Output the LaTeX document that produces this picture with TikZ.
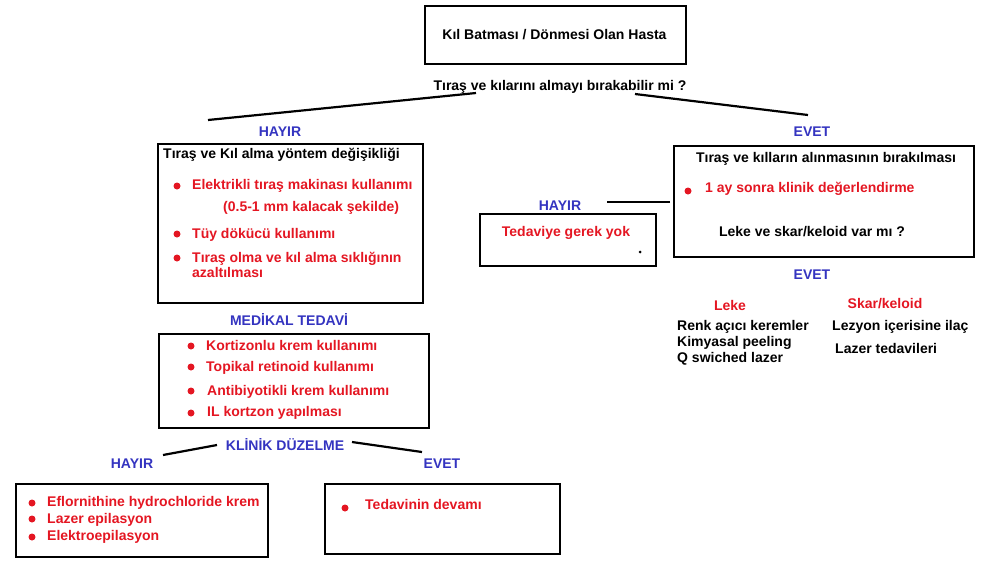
\documentclass[tikz,border=0pt]{standalone}
\usepackage{fontspec}
\setmainfont{Liberation Sans}
\definecolor{tred}{RGB}{228,22,34}
\definecolor{tblue}{RGB}{52,52,192}
\begin{document}
\begin{tikzpicture}[x=1pt,y=-1pt,
  font=\fontsize{14}{16}\selectfont\bfseries,
  box/.style={draw, line width=2.2pt, inner sep=0pt, anchor=north west},
  ct/.style={inner sep=0pt, yshift=-2pt},
  txt/.style={ct, anchor=mid west},
  rtxt/.style={txt, text=tred},
  lbl/.style={ct, text=tblue},
  dot/.style={circle, fill=tred, inner sep=0pt, minimum size=7pt},
  conn/.style={line width=2.2pt}]
\useasboundingbox (0,0) rectangle (1000,574);
% boxes
\node[box, minimum width=261pt, minimum height=58pt] (top) at (424,5) {};
\node[ct] (toptxt) at (554.5,33) {Kıl Batması / Dönmesi Olan Hasta};
\node[box, minimum width=265pt, minimum height=159pt] (b1) at (157,143) {};
\node[box, minimum width=270pt, minimum height=94pt] (b2) at (158,333) {};
\node[box, minimum width=252pt, minimum height=73pt] (b3) at (15,483) {};
\node[box, minimum width=235pt, minimum height=70pt] (b4) at (324,483) {};
\node[box, minimum width=300pt, minimum height=111pt] (rb) at (673,145) {};
\node[box, minimum width=176pt, minimum height=52pt] (sb) at (479,213) {};
% question and branches
\node[ct] (q) at (560,85) {Tıraş ve kılarını almayı bırakabilir mi ?};
\coordinate (qL) at (476,93);
\coordinate (qLe) at (208,120);
\coordinate (qR) at (635,94);
\coordinate (qRe) at (808,115);
\draw[conn] (qL) -- (qLe);
\draw[conn] (qR) -- (qRe);
\node[lbl] (hayir1) at (280,130) {HAYIR};
\node[lbl] (evet1) at (812,130) {EVET};
% left box 1
\node[txt] (b1t) at (163,154) {Tıraş ve Kıl alma yöntem değişikliği};
\node[dot] (d11) at (177,186) {};
\node[rtxt] (b1a) at (192,185) {Elektrikli tıraş makinası kullanımı};
\node[rtxt] (b1b) at (223,207) {(0.5-1 mm kalacak şekilde)};
\node[dot] (d12) at (177,234) {};
\node[rtxt] (b1c) at (192,234) {Tüy dökücü kullanımı};
\node[dot] (d13) at (177,258) {};
\node[rtxt] (b1d) at (192,258) {Tıraş olma ve kıl alma sıklığının};
\node[rtxt] (b1e) at (192,273) {azaltılması};
% medical
\node[lbl] (med) at (289,317) {MEDİKAL TEDAVİ};
\node[dot] (d21) at (191,346) {};
\node[rtxt] (b2a) at (206,346) {Kortizonlu krem kullanımı};
\node[dot] (d22) at (191,367) {};
\node[rtxt] (b2b) at (206,367) {Topikal retinoid kullanımı};
\node[dot] (d23) at (191,391) {};
\node[rtxt] (b2c) at (207,391) {Antibiyotikli krem kullanımı};
\node[dot] (d24) at (191,413) {};
\node[rtxt] (b2d) at (207,412) {IL kortzon yapılması};
% clinical improvement
\node[lbl] (kd) at (285,443) {KLİNİK DÜZELME};
\coordinate (kdL) at (217,445);
\coordinate (kdLe) at (163,455);
\coordinate (kdR) at (352,442);
\coordinate (kdRe) at (422,452);
\draw[conn] (kdL) -- (kdLe);
\draw[conn] (kdR) -- (kdRe);
\node[lbl] (hayir2) at (132,462) {HAYIR};
\node[lbl] (evet2) at (442,462) {EVET};
% box 3
\node[dot] (d31) at (32,503) {};
\node[rtxt] (b3a) at (47,502) {Eflornithine hydrochloride krem};
\node[dot] (d32) at (32,519) {};
\node[rtxt] (b3b) at (47,519) {Lazer epilasyon};
\node[dot] (d33) at (32,537) {};
\node[rtxt] (b3c) at (47,536) {Elektroepilasyon};
% box 4
\node[dot] (d41) at (345,508) {};
\node[rtxt] (b4a) at (365,505) {Tedavinin devamı};
% right box
\node[ct] (rbt) at (826,157) {Tıraş ve kılların alınmasının bırakılması};
\node[dot] (d51) at (688,191) {};
\node[rtxt] (rba) at (705,188) {1 ay sonra klinik değerlendirme};
\node[ct] (rbq) at (812,230) {Leke ve skar/keloid var mı ?};
\coordinate (rbL) at (670,202);
\coordinate (rbLe) at (607,202);
\draw[conn] (rbL) -- (rbLe);
\node[lbl] (hayir3) at (560,204) {HAYIR};
\node[ct, text=tred] (sbt) at (566,231) {Tedaviye gerek yok};
\node[circle, fill=black, inner sep=0pt, minimum size=3pt] (sbdot) at (640,252) {};
\node[lbl] (evet3) at (812,273) {EVET};
\node[ct, text=tred] (leke) at (730,303) {Leke};
\node[ct, text=tred] (skar) at (885,302) {Skar/keloid};
\node[txt] (l1) at (677,326) {Renk açıcı keremler};
\node[txt] (l2) at (677,342) {Kimyasal peeling};
\node[txt] (l3) at (677,358) {Q swiched lazer};
\node[txt] (s1) at (832,326) {Lezyon içerisine ilaç};
\node[txt] (s2) at (835,349) {Lazer tedavileri};
\end{tikzpicture}
\end{document}
